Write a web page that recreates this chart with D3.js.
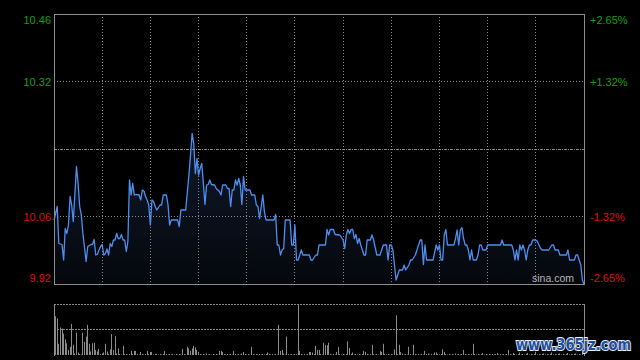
<!DOCTYPE html>
<html><head><meta charset="utf-8">
<script src="https://cdn.jsdelivr.net/npm/d3@7/dist/d3.min.js"></script>
<style>html,body{margin:0;padding:0;background:#000;}svg{display:block;}</style>
</head><body><svg id="c" width="640" height="360"></svg>
<script>
const preClose = 10.19;
const priceMin = 9.92, priceMax = 10.46;
const totalMinutes = 330;
const leftLabels = ["10.46", "10.32", "10.06", "9.92"];
const rightLabels = ["+2.65%", "+1.32%", "-1.32%", "-2.65%"];
const labelLevels = [10.46, 10.325, 10.055, 9.92];

const minutes = [0,2,3,5,6,7,8,9,10,11,12,14,15,16,17,18,20,21,23,24,25,26,27,28,29,30,31,32,33,34,35,36,37,38,39,40,41,42,43,44,45,46,47,48,49,50,51,53,54,55,56,57,58,59,60,61,62,63,64,65,66,67,68,70,71,72,73,77,78,79,82,84,85,86,87,88,89,90,91,92,93,94,95,96,97,98,100,101,103,104,105,107,108,109,110,111,112,113,114,115,116,117,118,119,122,123,125,126,127,128,130,131,132,137,138,139,140,141,142,143,144,147,148,149,150,151,152,154,155,159,160,161,163,164,165,169,170,171,172,174,175,178,180,181,182,183,184,185,186,187,188,189,190,191,192,193,194,195,197,198,199,201,203,205,207,208,209,210,211,212,213,214,215,217,218,219,221,222,223,225,226,227,228,229,230,231,232,236,238,239,240,241,242,243,244,245,249,250,251,252,253,254,255,256,257,258,259,260,261,263,264,265,266,267,269,270,278,279,280,285,286,287,288,289,290,291,292,293,294,295,296,297,298,300,301,302,303,304,308,310,311,312,314,315,319,320,321,324,325,326,327,328,329,330];
const prices = [10.048,10.075,10.001,9.999,9.968,10.031,10.021,10.038,10.095,10.078,10.045,10.155,10.121,10.075,10.058,10.021,9.965,9.995,9.999,9.999,10.009,9.978,9.979,9.988,9.995,9.999,9.978,9.981,9.990,9.978,10.001,9.995,10.008,10.008,10.021,10.011,10.011,10.019,10.008,10.008,9.985,10.005,10.128,10.098,10.121,10.098,10.099,10.098,10.088,10.108,10.106,10.095,10.088,10.078,10.038,10.088,10.085,10.075,10.068,10.073,10.078,10.078,10.098,10.098,10.078,10.038,10.048,10.048,10.035,10.068,10.068,10.138,10.178,10.221,10.201,10.141,10.171,10.138,10.151,10.161,10.121,10.079,10.118,10.119,10.128,10.119,10.118,10.111,10.105,10.098,10.118,10.118,10.111,10.111,10.075,10.108,10.108,10.128,10.118,10.131,10.118,10.079,10.135,10.108,10.108,10.098,10.098,10.078,10.075,10.051,10.098,10.065,10.048,10.048,10.059,9.998,9.998,9.978,9.988,9.991,10.048,10.048,9.998,9.998,10.038,9.968,9.968,9.988,9.978,9.978,9.968,9.968,9.978,9.978,9.998,9.998,10.029,10.018,10.029,10.029,10.019,10.018,10.008,9.991,10.018,10.029,10.021,10.029,10.029,10.011,10.019,10.001,10.011,9.998,9.988,9.978,9.978,10.008,10.008,10.018,10.008,9.978,9.978,9.998,9.998,9.968,9.998,9.998,9.988,9.958,9.928,9.938,9.948,9.948,9.958,9.948,9.958,9.968,9.968,9.978,9.988,9.998,10.008,10.008,9.959,9.998,9.968,9.968,9.998,9.988,9.998,9.968,9.968,10.018,10.029,9.998,9.998,10.011,10.028,9.998,10.028,10.033,10.011,9.998,9.998,9.988,9.968,9.988,9.968,9.968,9.978,9.998,9.998,9.988,9.988,9.998,9.998,10.008,9.998,9.998,9.988,9.968,9.988,9.968,9.998,9.988,9.998,9.988,9.968,9.988,9.998,9.998,10.008,10.008,10.005,9.998,9.991,9.988,9.988,9.998,9.998,9.988,9.988,9.978,9.978,9.988,9.968,9.968,9.978,9.978,9.968,9.958,9.928,9.919];

const volumes = [20,76,72,22,54,52,42,31,23,10,16,61,20,3,44,5,2,1,44,26,36,59,22,7,23,24,10,7,12,2,3,5,22,7,2,11,41,10,37,3,13,2,1,18,2,2,1,2,8,2,8,8,2,1,6,2,1,2,8,2,6,6,1,2,2,1,2,1,2,8,2,1,2,1,2,1,2,1,2,1,12,2,1,16,13,8,13,18,15,10,6,2,1,2,1,3,1,2,1,2,1,2,1,8,8,6,2,1,2,1,2,1,8,2,1,2,1,3,6,2,1,2,1,16,2,1,2,1,2,1,2,1,2,5,2,1,2,1,2,1,59,8,10,3,1,36,2,1,2,1,2,1,98,8,2,1,2,1,2,6,6,5,2,18,10,10,2,1,24,20,19,24,2,1,2,1,6,16,2,1,2,1,2,27,14,2,5,1,2,1,2,1,2,8,6,2,1,2,20,2,1,2,1,8,6,22,2,1,2,1,2,1,11,78,2,20,6,3,1,2,1,16,2,1,20,2,1,2,1,2,1,8,2,3,1,2,1,5,5,2,1,2,11,6,2,1,2,1,2,1,3,1,2,1,2,10,2,1,2,1,2,22,2,1,2,1,2,4,1,2,1,2,1,2,1,2,4,1,2,1,2,1,2,10,2,1,4,2,1,2,5,1,2,1,2,4,1,2,1,2,6,1,2,1,2,3,1,2,1,2,5,1,2,1,2,3,1,2,1,2,4,1,2,1,2,3,1,2,1,2,8];
const volMax = 100;

const svg = d3.select("#c");
svg.append("rect").attr("width",640).attr("height",360).attr("fill","#000");

const L = 54, R = 584, T = 14, B = 284, VT = 304, VB = 355;
const x = d3.scaleLinear().domain([0, totalMinutes]).range([L, R]);
const y = d3.scaleLinear().domain([priceMin, priceMax]).range([B, T]);
const yv = d3.scaleLinear().domain([0, volMax]).range([VB, VT]);
const crisp = v => Math.floor(v) + 0.5;

const defs = svg.append("defs");
const g = defs.append("linearGradient").attr("id","af").attr("x1",0).attr("y1",0).attr("x2",0).attr("y2",1);
g.append("stop").attr("offset","0%").attr("stop-color","#101a2c");
g.append("stop").attr("offset","100%").attr("stop-color","#05070c");

const pts = minutes.map((m,i)=>[m, prices[i]]);
svg.append("path").datum(pts)
  .attr("d", d3.area().x(d=>x(d[0])).y0(B).y1(d=>y(d[1])))
  .attr("fill","url(#af)");

const gridCol = "#8a8a8a";
const vgrid = d3.range(30, totalMinutes, 30);
svg.append("g").selectAll("line").data(vgrid).join("line")
  .attr("x1", d=>crisp(x(d))).attr("x2", d=>crisp(x(d)))
  .attr("y1", T).attr("y2", B)
  .attr("stroke", gridCol).attr("stroke-width",1).attr("stroke-dasharray","1,2");
[labelLevels[1], labelLevels[2]].forEach(v=>{
  svg.append("line").attr("x1",L).attr("x2",R).attr("y1",crisp(y(v))).attr("y2",crisp(y(v)))
    .attr("stroke",gridCol).attr("stroke-dasharray","1,2");
});
svg.append("line").attr("x1",L).attr("x2",R).attr("y1",crisp(y(preClose))).attr("y2",crisp(y(preClose)))
  .attr("stroke",gridCol).attr("stroke-dasharray","3,1,1,1");

svg.append("path").datum(pts)
  .attr("d", d3.line().x(d=>x(d[0])).y(d=>y(d[1])))
  .attr("fill","none").attr("stroke","#4d8ef0").attr("stroke-width",1.3).attr("stroke-linejoin","round");

svg.append("rect").attr("x",L+0.5).attr("y",T+0.5).attr("width",R-L).attr("height",B-T)
  .attr("fill","none").attr("stroke","#8c8c8c").attr("stroke-width",1);

svg.append("text").attr("x",574).attr("y",282).attr("text-anchor","end")
  .attr("font-family","Liberation Sans, Arial, sans-serif").attr("font-size",10.5)
  .attr("fill","#b4b4b4").text("sina.com");

const fontF = "Liberation Sans, Arial, sans-serif";
labelLevels.forEach((v,i)=>{
  const yy = y(v);
  let ty = yy + 4;
  if (i === 0) ty = yy + 10;
  if (i === labelLevels.length-1) ty = yy - 2;
  const col = v > preClose ? "#12a012" : "#dd1010";
  svg.append("text").attr("x",51).attr("y",ty).attr("text-anchor","end")
    .attr("font-family",fontF).attr("font-size",11).attr("fill",col).text(leftLabels[i]);
  svg.append("text").attr("x",590).attr("y",ty).attr("text-anchor","start")
    .attr("font-family",fontF).attr("font-size",11).attr("fill",col).text(rightLabels[i]);
});

svg.append("g").selectAll("rect").data(volumes).join("rect")
  .attr("x", (d,i)=>Math.floor(x(i)))
  .attr("y", d=>yv(d)).attr("width",1)
  .attr("height", d=>VB - yv(d)).attr("fill","#8a8a8a");
svg.append("line").attr("x1",L).attr("x2",R).attr("y1",crisp(yv(volMax))).attr("y2",crisp(yv(volMax)))
  .attr("stroke",gridCol).attr("stroke-dasharray","2,1");
svg.append("line").attr("x1",L).attr("x2",R).attr("y1",crisp(yv(volMax/2))).attr("y2",crisp(yv(volMax/2)))
  .attr("stroke",gridCol).attr("stroke-dasharray","2,1");
svg.append("line").attr("x1",L+0.5).attr("x2",L+0.5).attr("y1",VT).attr("y2",VB+1).attr("stroke","#8c8c8c");
svg.append("line").attr("x1",R+0.5).attr("x2",R+0.5).attr("y1",VT).attr("y2",VB+1).attr("stroke","#8c8c8c");

svg.append("text").attr("x",516).attr("y",350)
  .attr("font-family","DejaVu Sans, sans-serif").attr("font-weight","bold").attr("font-size",16)
  .attr("textLength",115).attr("lengthAdjust","spacingAndGlyphs")
  .attr("fill","#1f4f9f").attr("stroke","#e8eef8").attr("stroke-width",2)
  .attr("paint-order","stroke").text("www.365jz.com");
</script></body></html>
